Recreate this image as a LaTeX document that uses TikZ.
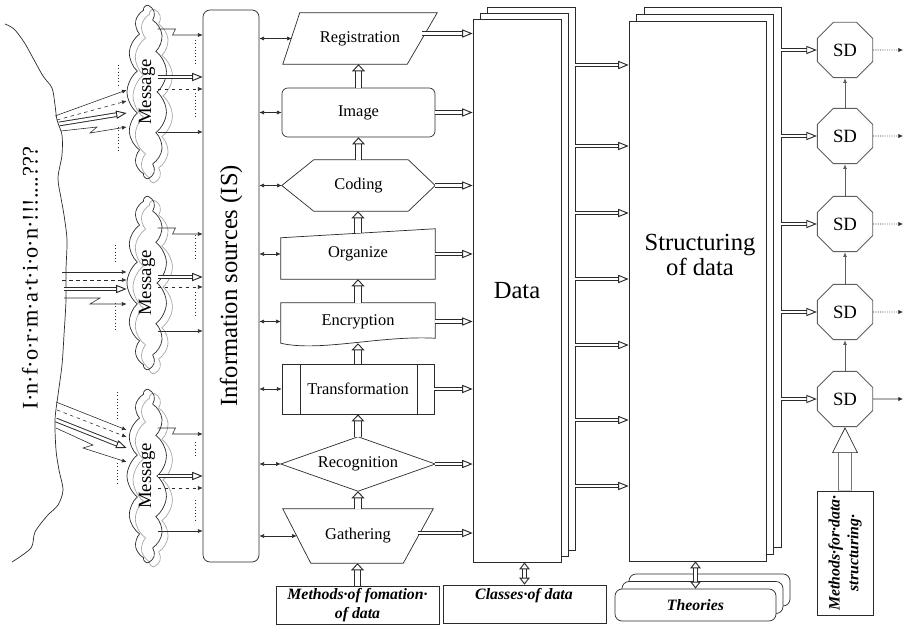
\documentclass[tikz,border=0pt]{standalone}
\usepackage{fontspec}
\setmainfont{Liberation Serif}
\usepackage{tikz}
\usetikzlibrary{arrows.meta, positioning, shapes.geometric, shapes.symbols, calc}
\newcommand{\pxu}{0.03cm}
\definecolor{dline}{HTML}{2B2B2B}
\definecolor{dgray}{HTML}{5E5E5E}
\definecolor{dcloud}{HTML}{A6A6A6}
\tikzset{
  sized/.style 2 args={minimum width=#1*\pxu, minimum height=#2*\pxu, inner sep=0pt},
  lbl/.style={font=\fontsize{14}{16}\selectfont},
  big/.style={font=\fontsize{21}{22}\selectfont},
  bi/.style={font=\fontsize{13.5}{16}\selectfont\bfseries\itshape},
  outl/.style={draw=dline, line width=0.6pt},
  page/.style={outl, fill=white},
  ar/.style={-{Latex[length=4pt, width=3.5pt]}, dline, line width=0.5pt},
  link/.style={{Latex[length=4pt, width=3.5pt]}-{Latex[length=4pt, width=3.5pt]}, dline, line width=0.5pt},
  hollow/.style={draw=dline, line width=0.8pt, double=white, double distance=2.4pt,
                 -{Triangle[open, length=9pt, width=7pt]}},
  hollowup/.style={draw=dline, line width=0.8pt, double=white, double distance=4.6pt,
                   -{Triangle[open, length=6pt, width=11pt]}},
  hollowboth/.style={draw=dline, line width=0.8pt, double=white, double distance=3.2pt,
                     {Triangle[open, length=6pt, width=9pt]}-{Triangle[open, length=6pt, width=9pt]}},
  sd/.style={regular polygon, regular polygon sides=8, minimum size=60*\pxu, draw=dgray,
             line width=0.8pt, inner sep=0pt, font=\fontsize{16}{18}\selectfont},
  sdar/.style={-{Latex[length=4pt, width=3.5pt]}, dgray, line width=0.8pt},
  msgcloud/.style={cloud, cloud puffs=13, cloud puff arc=105, cloud ignores aspect, rotate=90,
                   minimum width=172*\pxu, minimum height=40*\pxu, inner sep=0pt, line width=0.6pt},
  dots/.style={dline, line width=0.8pt, dotted}
}

\begin{document}
\begin{tikzpicture}[x=\pxu, y=-\pxu]
  \useasboundingbox (0,0) rectangle (904,626);

  % the information field
  \draw[dline, line width=0.6pt] plot[smooth, tension=0.5] coordinates {
    (5,24) (14,29) (24,42) (33,58) (43,76) (52,88) (55,105) (57,120) (62,135)
    (62,155) (58,178) (61,198) (64,215) (67,240) (66,270) (66,300) (64,335)
    (62,365) (58,395) (55,420) (56,450) (59,470) (63,490) (58,505) (47,516)
    (35,532) (31,548) (12,562)};
  \node[rotate=90, font=\fontsize{19}{21}\selectfont] (infotxt) at (30,278) {I·n·f·o·r·m·a·t·i·o·n·!!!....???};

  % messages
  \foreach \i/\y in {1/92, 2/283, 3/476}{
    \node[msgcloud, draw=dcloud] (bmsg\i) at (153,\y+4) {};
    \node[msgcloud, draw=dline, font=\fontsize{16}{18}\selectfont] (msg\i) at (147,\y) {Message};
  }

  % from the field to the messages
  \coordinate (in1) at (55,116);
  \coordinate (in2) at (62,272);
  \coordinate (in3) at (56,402);
  \draw[ar] (in1) -- (msg1.north |- 0,90);
  \draw[ar, dashed] ($(in1)+(2,4)$) -- (msg1.north |- 0,101);
  \draw[hollow] ($(in1)+(4,8)$) -- (msg1.north |- 0,113);
  \draw[ar] ($(in1)+(6,15)$) -- ++(36,-4) -- ++(-7,6) -- (msg1.north |- 0,127);
  \draw[ar] (in2) -- (msg2.north |- in2);
  \draw[ar, dashed] ($(in2)+(0,8)$) -- (msg2.north |- 0,280);
  \draw[hollow] ($(in2)+(2,17)$) -- (msg2.north |- 0,289);
  \draw[ar] ($(in2)+(2,26)$) -- ++(36,0) -- ++(-10,6) -- (msg2.north |- 0,304);
  \draw[ar] (in3) -- (msg3.north |- 0,430);
  \draw[ar, dashed] ($(in3)+(1,8)$) -- (msg3.north |- 0,437);
  \draw[hollow] ($(in3)+(0,18)$) -- (msg3.north |- 0,448);
  \draw[ar] ($(in3)+(0,26)$) -- ++(37,17) -- ++(-10,3) -- (msg3.north |- 0,462);
  \draw[dots] (118,65) -- (118,85) (118,127) -- (118,153);
  \draw[dots] (115,245) -- (115,263) (115,303) -- (115,330);
  \draw[dots] (117,392) -- (117,420) (117,463) -- (117,485);

  % information sources
  \node[sized={56}{552}, outl, rounded corners=6pt] (is) at (231,286) {};
  \node[rotate=90, big] (istxt) at (is) {Information sources (IS)};

  % messages to the sources
  \foreach \m/\za/\h/\d/\s in {msg1/29/77/89/132, msg2/228/277/287/331, msg3/428/476/488/531}{
    \draw[ar] (\m.south |- 0,\za) -- ++(18,0) -- ++(-3,6) coordinate (z) -- (is.west |- z);
    \draw[hollow] (\m.south |- 0,\h) -- (is.west |- 0,\h);
    \draw[ar, dashed] (\m.south |- 0,\d) -- (is.west |- 0,\d);
    \draw[ar] (\m.south |- 0,\s) -- (is.west |- 0,\s);
  }
  \draw[dots] (195,40) -- (195,63) (195,93) -- (195,117);
  \draw[dots] (195,235) -- (195,258) (195,292) -- (195,317);
  \draw[dots] (195,442) -- (195,458) (195,500) -- (195,520);

  % methods of formation
  \node[sized={154}{51}, lbl] (reg) at (360,38.5) {Registration};
  \draw[outl] (reg.south west) -- ($(reg.north west)+(17,0)$) -- (reg.north east)
    -- ($(reg.south east)+(-30,0)$) -- cycle;
  \node[sized={153}{49}, outl, rounded corners=5pt, lbl] (img) at (358.5,112.5) {Image};
  \node[sized={153}{51}, lbl] (cod) at (358.5,185.5) {Coding};
  \draw[outl] (cod.west) -- ($(cod.north west)+(32,0)$) -- ($(cod.north east)+(-27,0)$) -- (cod.east)
    -- ($(cod.south east)+(-27,0)$) -- ($(cod.south west)+(32,0)$) -- cycle;
  \node[sized={154}{50}, lbl] (org) at (358,254) {Organize};
  \draw[outl] ($(org.north west)+(0,9)$) -- (org.north east) -- (org.south east) -- (org.south west) -- cycle;
  \node[sized={154}{37}, lbl] (enc) at (358,321.5) {Encryption};
  \draw[outl] ($(enc.south west)+(0,3)$) -- (enc.north west) -- (enc.north east) -- ($(enc.south east)+(0,-2)$)
    .. controls ($(enc.south)+(22,-5)$) and ($(enc.south)+(-38,12)$) .. ($(enc.south west)+(0,3)$) -- cycle;
  \node[sized={152}{50}, outl, lbl] (tra) at (358,389) {Transformation};
  \draw[outl] ($(tra.north west)+(19,0)$) -- ($(tra.south west)+(19,0)$)
    ($(tra.north east)+(-17,0)$) -- ($(tra.south east)+(-17,0)$);
  \node[sized={154}{54}, lbl] (rec) at (358,464) {Recognition};
  \draw[outl] (rec.west) -- (rec.north) -- (rec.east) -- (rec.south) -- cycle;
  \node[sized={150}{54}, lbl] (gat) at (358,536) {Gathering};
  \draw[outl] (gat.north west) -- (gat.north east) -- ($(gat.south east)+(-30,0)$)
    -- ($(gat.south west)+(28,0)$) -- cycle;
  \node[sized={163}{38}, outl, bi, align=center] (mfd) at (357.5,605) {Methods·of fomation·\\of data};

  \foreach \a/\b in {mfd/gat, gat/rec, rec/tra, enc/org, cod/img, img/reg}
    \draw[hollowup] (\a.north) -- (\a.north |- \b.south);
  \draw[hollowup] (tra.north) -- ($(tra.north |- enc.south)+(0,3)$);
  \draw[hollowup] ($(org.north)+(0,4)$) -- (org.north |- cod.south);

  % sources to methods
  \draw[link] (is.east |- reg.west) -- ($(reg.west)+(9,0)$);
  \foreach \s in {img, cod, org, enc, tra, rec}
    \draw[link] (is.east |- \s.west) -- (\s.west);
  \draw[link] (is.east |- gat.west) -- ($(gat.west)+(14,0)$);

  % data
  \node[sized={88}{543}, page] (data3) at (531,278.5) {};
  \node[sized={88}{543}, page] (data2) at (524,284.5) {};
  \node[sized={88}{543}, page, big] (data) at (517,290.5) {Data};
  \draw[hollow] ($(reg.east)+(-15,-5)$) -- ($(data.west |- reg.east)+(0,-5)$);
  \foreach \s in {img, cod, org, enc, tra, rec}
    \draw[hollow] (\s.east) -- (data.west |- \s.east);
  \draw[hollow] ($(gat.east)+(-15,-3)$) -- ($(data.west |- gat.east)+(0,-3)$);

  \node[sized={163}{38}, outl] (cls) at (524.5,604) {};
  \node[bi] (clstxt) at (524,596) {Classes·of data};
  \draw[hollowboth] (cls.north |- data.south) -- (cls.north);

  % structuring
  \node[sized={137}{540}, page] (str3) at (712.5,277) {};
  \node[sized={137}{540}, page] (str2) at (704.5,284) {};
  \node[sized={137}{540}, page] (str) at (697.5,291) {};
  \node[big, align=center] (strtxt) at (700,255) {Structuring\\of data};
  \foreach \y in {65,146,213,279,345,420,486}
    \draw[hollow] (data3.east |- 0,\y) -- (str.west |- 0,\y);

  \node[sized={161}{32}, page, rounded corners=6pt] (th3) at (709.5,590) {};
  \node[sized={161}{32}, page, rounded corners=6pt] (th2) at (702.5,597.5) {};
  \node[sized={161}{32}, page, rounded corners=6pt, bi] (th) at (695.5,605) {Theories};
  \draw[hollowboth] (th.north |- str.south) -- (th.north);

  % structured data
  \foreach \i/\y in {1/50, 2/136, 3/224, 4/312, 5/399}{
    \node[sd] (sd\i) at (845,\y) {SD};
    \coordinate (out\i) at (903,\y);
    \draw[hollow] (str3.east |- sd\i.west) -- (sd\i.west);
  }
  \foreach \a/\b in {5/4, 4/3, 3/2, 2/1}
    \draw[sdar] (sd\a.north) -- (sd\b.south);
  \foreach \i in {1,...,4}
    \draw[ar, densely dotted] (sd\i.east) -- (out\i);
  \draw[ar] (sd5.east) -- (out5);

  \node[sized={56}{124}, outl] (mds) at (845,553) {};
  \node[rotate=90, bi, align=center] (mdstxt) at (mds) {Methods·for·data·\\structuring·};
  \draw[draw=dline, line width=0.6pt, double=white, double distance=10pt,
        -{Triangle[open, length=22pt, width=22pt]}] (mds.north) -- (sd5.south);
\end{tikzpicture}
\end{document}
